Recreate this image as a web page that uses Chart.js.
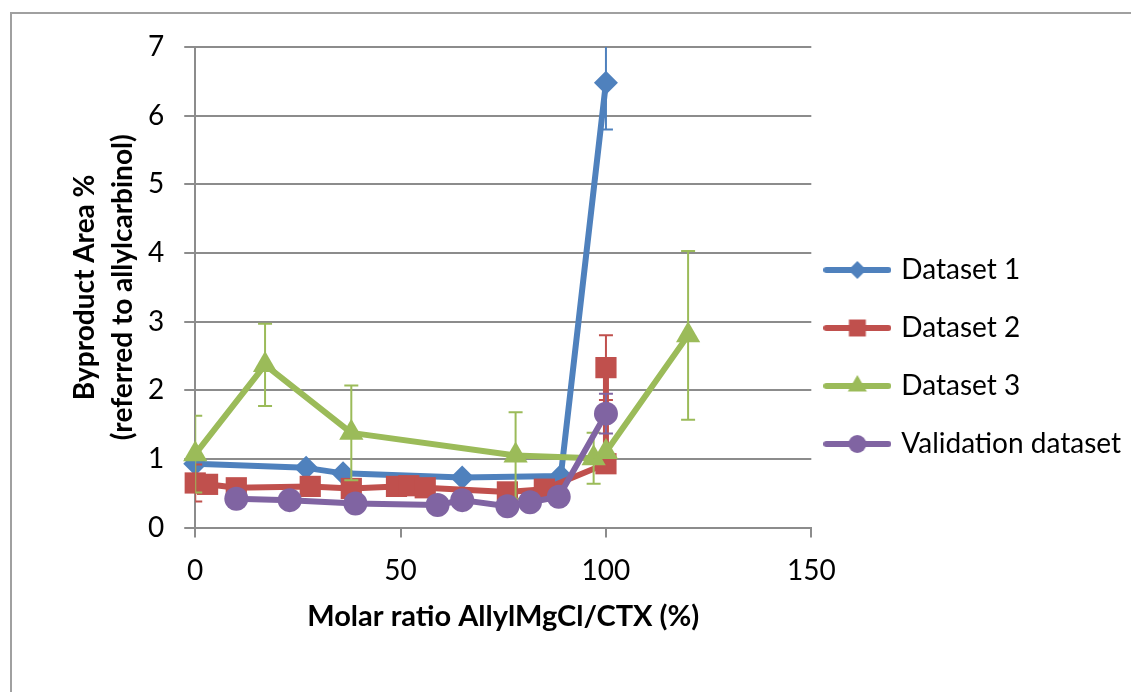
<!DOCTYPE html>
<html>
<head>
<meta charset="utf-8">
<script src="https://cdn.jsdelivr.net/npm/chart.js@4.4.0/dist/chart.umd.min.js"></script>
<style>
  html, body { margin: 0; padding: 0; background: #fff; overflow: hidden; }
  #frame { position: absolute; left: 10px; top: 12px; width: 1300px; height: 900px; border: 2px solid #a0a0a0; box-sizing: border-box; }
  #wrap { position: absolute; left: 0; top: 0; width: 1131px; height: 692px; }
</style>
</head>
<body>
<div id="frame"></div>
<div id="wrap"><canvas id="chart"></canvas></div>
<script>
// series names (legend order)
const seriesNames = ['Dataset 1', 'Dataset 2', 'Dataset 3', 'Validation dataset'];

// Dataset 1
const ds1X = [0, 27, 36, 65, 89, 100];
const ds1Y = [0.93, 0.87, 0.79, 0.73, 0.75, 6.48];
const ds1Err = [0, 0, 0, 0, 0, 0.68];

// Dataset 2
const ds2X = [0, 3, 10, 28, 38, 49, 52, 56, 76, 85, 100, 100];
const ds2Y = [0.65, 0.63, 0.58, 0.6, 0.57, 0.6, 0.61, 0.58, 0.52, 0.56, 0.93, 2.33];
const ds2Err = [0.27, 0, 0, 0, 0, 0, 0, 0, 0, 0, 0, 0.47];

// Dataset 3
const ds3X = [0, 17, 38, 78, 97, 100, 120];
const ds3Y = [1.07, 2.37, 1.38, 1.05, 1.01, 1.1, 2.8];
const ds3Err = [0.56, 0.6, 0.69, 0.63, 0.37, 0, 1.23];

// Validation dataset
const valX = [10, 23, 39, 59, 65, 76, 81.5, 88.5, 100];
const valY = [0.42, 0.4, 0.35, 0.33, 0.4, 0.31, 0.37, 0.45, 1.66];
const valErr = [0, 0, 0, 0, 0, 0, 0, 0, 0.29];

// axis ticks
const xTicks = [0, 50, 100, 150];
const yTicks = [0, 1, 2, 3, 4, 5, 6, 7];

const colors = ['#4F81BD', '#C0504D', '#9BBB59', '#8064A2'];
const markers = ['rectRot', 'rect', 'triangle', 'circle'];
const markerSize = [12, 15, 14, 12];

function pts(xs, ys) {
    return xs.map((x, i) => ({ x: x, y: ys[i] }));
}

// little line + marker pictures for the legend
function legendIcon(i) {
    const c = document.createElement('canvas');
    c.width = 68;
    c.height = 30;
    const g = c.getContext('2d');
    g.strokeStyle = colors[i];
    g.lineWidth = 6;
    g.lineCap = 'round';
    g.beginPath();
    g.moveTo(3, 15);
    g.lineTo(65, 15);
    g.stroke();
    g.fillStyle = colors[i];
    Chart.helpers.drawPoint(g, { pointStyle: markers[i], radius: markerSize[i] - 3, rotation: 0, borderWidth: 0 }, 34, 15);
    return c;
}

// vertical error bars, drawn just under each series
const errorBars = {
    id: 'errorBars',
    beforeDatasetDraw(chart, args) {
        const ds = chart.data.datasets[args.index];
        if (!ds.errors) return;
        const { ctx, chartArea } = chart;
        const xs = chart.scales.x, ys = chart.scales.y;
        ctx.save();
        ctx.beginPath();
        ctx.rect(chartArea.left, chartArea.top, chartArea.width, chartArea.height);
        ctx.clip();
        ctx.strokeStyle = ds.borderColor;
        ctx.lineWidth = 2;
        ds.data.forEach((p, i) => {
            const e = ds.errors[i];
            if (!e) return;
            const px = xs.getPixelForValue(p.x);
            const top = ys.getPixelForValue(p.y + e);
            const bot = ys.getPixelForValue(p.y - e);
            ctx.beginPath();
            ctx.moveTo(px, top); ctx.lineTo(px, bot);
            ctx.moveTo(px - 7, top); ctx.lineTo(px + 7, top);
            ctx.moveTo(px - 7, bot); ctx.lineTo(px + 7, bot);
            ctx.stroke();
        });
        ctx.restore();
    }
};

const allX = [ds1X, ds2X, ds3X, valX];
const allY = [ds1Y, ds2Y, ds3Y, valY];
const allErr = [ds1Err, ds2Err, ds3Err, valErr];

const datasets = seriesNames.map((name, i) => ({
    label: name,
    data: pts(allX[i], allY[i]),
    errors: allErr[i],
    borderColor: colors[i],
    backgroundColor: colors[i],
    borderWidth: 6,
    borderJoinStyle: 'round',
    borderCapStyle: 'round',
    pointStyle: markers[i],
    pointRadius: markerSize[i],
    pointBorderWidth: 0,
    pointBackgroundColor: colors[i],
    tension: 0,
    clip: false,
    order: 4 - i
}));

const icons = seriesNames.map((n, i) => legendIcon(i));
const gridColor = '#8c8c8c';
const font = 'Lato';

new Chart(document.getElementById('chart').getContext('2d'), {
    type: 'line',
    data: { datasets: datasets },
    plugins: [errorBars],
    options: {
        responsive: true,
        maintainAspectRatio: false,
        animation: false,
        layout: { padding: { top: 47, left: 60, right: 0, bottom: 11 } },
        plugins: {
            tooltip: { enabled: false },
            legend: {
                position: 'right',
                maxWidth: 400,
                labels: {
                    usePointStyle: true,
                    pointStyleWidth: 60,
                    padding: 16,
                    color: '#000',
                    font: { family: font, size: 28, lineHeight: 1.5 },
                    generateLabels: chart => chart.data.datasets.map((ds, i) => ({
                        text: [ds.label],
                        pointStyle: icons[i],
                        fillStyle: ds.borderColor,
                        strokeStyle: ds.borderColor,
                        lineWidth: 0,
                        hidden: false,
                        datasetIndex: i,
                        fontColor: '#000'
                    }))
                }
            }
        },
        scales: {
            x: {
                type: 'linear',
                min: 0,
                max: 150,
                afterBuildTicks: axis => { axis.ticks = xTicks.map(v => ({ value: v })); },
                ticks: { padding: 17, color: '#000', font: { family: font, size: 28 } },
                grid: { drawOnChartArea: false, drawTicks: true, tickLength: 10, color: gridColor, lineWidth: 2 },
                border: { color: gridColor, width: 2 },
                title: {
                    display: true,
                    text: 'Molar ratio AllylMgCl/CTX (%)',
                    color: '#000',
                    font: { family: font, size: 29, weight: 'bold' },
                    padding: { top: -6, bottom: 47 }
                }
            },
            y: {
                type: 'linear',
                min: 0,
                max: 7,
                afterBuildTicks: axis => { axis.ticks = yTicks.map(v => ({ value: v })); },
                ticks: { padding: 20, color: '#000', font: { family: font, size: 28 } },
                grid: { color: gridColor, lineWidth: 2, tickLength: 11 },
                border: { color: gridColor, width: 2 },
                title: {
                    display: true,
                    text: ['Byproduct Area %', '(referred to allylcarbinol)'],
                    color: '#000',
                    font: { family: font, size: 28, weight: 'bold', lineHeight: 1.357 },
                    padding: { top: 6, bottom: -14 }
                }
            }
        }
    }
});
</script>
</body>
</html>
